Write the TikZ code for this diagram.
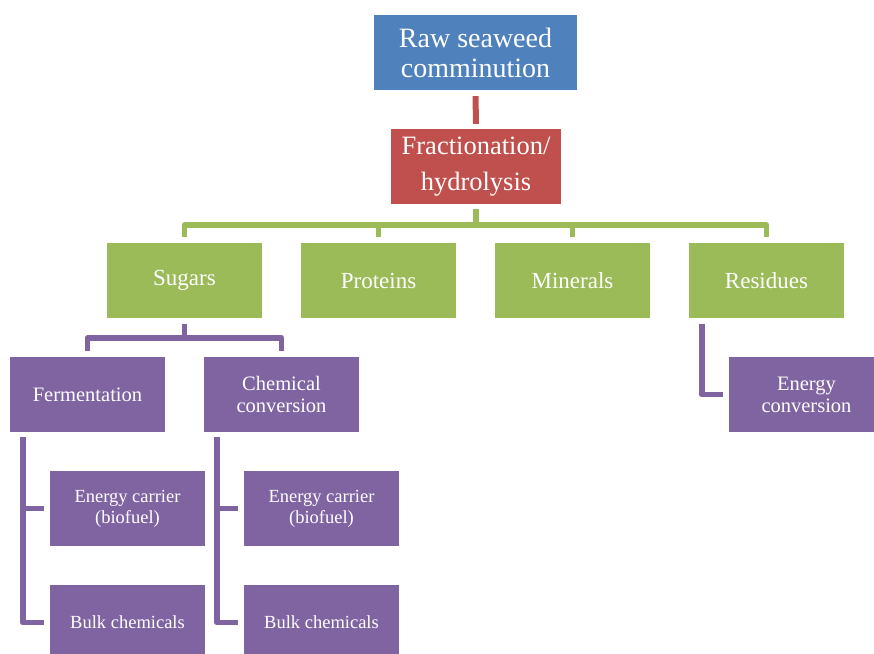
\documentclass[tikz,border=0pt]{standalone}
\usepackage{fontspec}
\setmainfont{Liberation Serif}
\definecolor{cblue}{HTML}{4F81BD}
\definecolor{cred}{HTML}{C0504D}
\definecolor{cgreen}{HTML}{9BBB59}
\definecolor{cpurple}{HTML}{8064A2}
\begin{document}
\begin{tikzpicture}[x=1pt,y=-1pt,
  box/.style={rectangle,inner sep=0pt,text=white,align=center,minimum width=155pt,minimum height=75pt},
  gbox/.style={box,fill=cgreen,font=\fontsize{23}{26}\selectfont},
  pbox/.style={box,fill=cpurple,font=\fontsize{20.5}{22}\selectfont},
  sbox/.style={box,fill=cpurple,font=\fontsize{18.5}{21}\selectfont},
  conn/.style={line width=5.5pt,line join=round},
]
\useasboundingbox (0,0) rectangle (874,653);
\begin{scope}
\clip (0,0) rectangle (874,653);
\node[box,fill=cblue,minimum width=203pt,font=\fontsize{28}{30}\selectfont] (raw) at (475.5,52.5) {Raw seaweed\\comminution};
\node[box,fill=cred,minimum width=170pt,font=\fontsize{26.5}{36}\selectfont] (frac) at (476,166.5) {Fractionation/\\hydrolysis};
\node[gbox] (sugars) at (184.5,280.5) {Sugars};
\node[gbox] (proteins) at (378.5,280.5) {Proteins};
\node[gbox] (minerals) at (572.5,280.5) {Minerals};
\node[gbox] (residues) at (766.5,280.5) {Residues};
\node[pbox] (ferm) at (87.5,394.5) {Fermentation};
\node[pbox] (chem) at (281.5,394.5) {Chemical\\conversion};
\node[pbox] (econv) at (806.5,394.5) {Energy\\conversion};
\node[sbox] (ec1) at (127.5,508.5) {Energy carrier\\(biofuel)};
\node[sbox] (bulk1) at (127.5,622.5) {Bulk chemicals};
\node[sbox] (ec2) at (321.5,508.5) {Energy carrier\\(biofuel)};
\node[sbox] (bulk2) at (321.5,622.5) {Bulk chemicals};
\coordinate (gbar) at (0,225);
\coordinate (pbar) at (0,338);
% red connector
\draw[conn,cred,line width=6pt] ([yshift=-6pt]raw.south) -- ([yshift=5pt]frac.north);
% green tree
\draw[conn,cgreen] ([yshift=-5pt]frac.south) -- (frac.south |- gbar);
\draw[conn,cgreen] ([yshift=6pt]sugars.north) -- (sugars.north |- gbar) -- (residues.north |- gbar) -- ([yshift=6pt]residues.north);
\draw[conn,cgreen] ([yshift=6pt]proteins.north) -- (proteins.north |- gbar);
\draw[conn,cgreen] ([yshift=6pt]minerals.north) -- (minerals.north |- gbar);
% purple from sugars
\draw[conn,cpurple] ([yshift=-6pt]sugars.south) -- (sugars.south |- pbar);
\draw[conn,cpurple] ([yshift=6pt]ferm.north) -- (ferm.north |- pbar) -- (chem.north |- pbar) -- ([yshift=6pt]chem.north);
% fermentation branches
\draw[conn,cpurple] ([xshift=13pt,yshift=-5pt]ferm.south west) |- ([xshift=-6pt]bulk1.west);
\draw[conn,cpurple] ([xshift=13pt]ferm.south west |- ec1.west) -- ([xshift=-6pt]ec1.west);
% chemical branches
\draw[conn,cpurple] ([xshift=13pt,yshift=-5pt]chem.south west) |- ([xshift=-6pt]bulk2.west);
\draw[conn,cpurple] ([xshift=13pt]chem.south west |- ec2.west) -- ([xshift=-6pt]ec2.west);
% residues branch
\draw[conn,cpurple] ([xshift=13pt,yshift=-6pt]residues.south west) |- ([xshift=-6pt]econv.west);
\end{scope}
\end{tikzpicture}
\end{document}
